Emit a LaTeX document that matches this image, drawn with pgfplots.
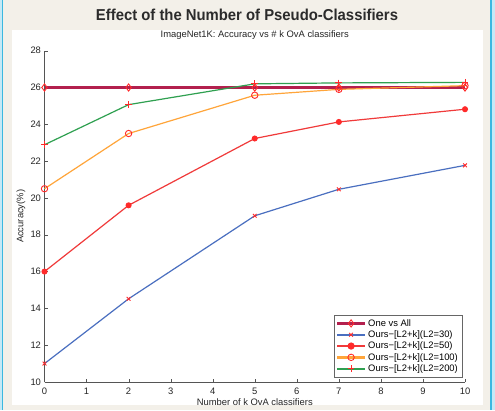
\documentclass[border=0pt]{standalone}
\usepackage{pgfplots}
\pgfplotsset{compat=1.18}
\usepackage{fontspec}
\setmainfont{Liberation Sans}

\definecolor{bgbeige}{HTML}{F3F0E9}
\definecolor{bordblue}{HTML}{3BB8E0}
\definecolor{bordlight}{HTML}{C5E9F6}
\definecolor{titlegray}{HTML}{2B2B2B}
\definecolor{axgray}{HTML}{555555}
\definecolor{ovacol}{HTML}{B3204E}
\definecolor{bluecol}{HTML}{4A6FC0}
\definecolor{redcol}{HTML}{F03A3A}
\definecolor{orangecol}{HTML}{FFA53A}
\definecolor{greencol}{HTML}{2FA050}
\definecolor{mkred}{HTML}{FF2A2A}

\begin{document}
\begin{tikzpicture}[x=1pt,y=1pt]
% page background and frame
\fill[bgbeige] (0,0) rectangle (495,410);
\fill[bordlight] (0,0) rectangle (1.7,410);
\fill[bordblue] (1.7,0) rectangle (3.3,410);
\fill[bordblue] (490,0) rectangle (492.3,410);
\fill[bordlight] (492.3,0) rectangle (495,410);
\fill[white] (12,5) rectangle (483,380);
\node[font=\bfseries\fontsize{15.8}{16}\selectfont, text=titlegray, xscale=0.94] at (247,395) {Effect of the Number of Pseudo-Classifiers};

\begin{axis}[
  at={(44.5pt,28pt)}, anchor=south west,
  scale only axis, width=420.5pt, height=331.3pt,
  xmin=0, xmax=10, ymin=10, ymax=28,
  xtick={0,1,...,10}, ytick={10,12,...,28},
  axis x line*=bottom, axis y line*=left,
  axis line style={-, draw=axgray},
  tick align=inside, major tick length=3.5pt,
  tick style={draw=axgray},
  font=\fontsize{9.4}{11}\selectfont,
  /pgf/number format/assume math mode=true,
  ticklabel style={text=black!85},
  xticklabel style={yshift=-2pt},
  title={ImageNet1K: Accuracy vs \# k OvA classifiers},
  title style={at={(0.5,1)}, anchor=base, yshift=7.3pt, text=black!85},
  xlabel={Number of k OvA classifiers},
  every axis x label/.style={at={(axis description cs:0.5,0)}, anchor=base, yshift=-23.3pt, text=black!85},
  ylabel={Accuracy(\%)},
  every axis y label/.style={at={(axis description cs:-0.0559,0.5)}, rotate=90, anchor=center, text=black!85},
  clip=false,
  legend cell align=left,
  legend style={at={(0.993,0.015)}, anchor=south east, draw=gray!80!black, font=\fontsize{9.4}{10.5}\selectfont, row sep=-1pt, inner sep=2pt},
  legend image code/.code={\draw[mark repeat=2,mark phase=2,#1,line width=2.3pt] plot coordinates {(0pt,0pt) (14pt,0pt) (28pt,0pt)};},
]
\addplot[color=ovacol, line width=2.4pt, mark=diamond, mark size=3.6pt, mark options={solid, draw=mkred, line width=0.9pt}]
  coordinates {(0,26) (2,26) (5,26) (7,26) (10,26)};
\addlegendentry{One vs All}
\addplot[color=bluecol, line width=1.2pt, mark=x, mark size=2.6pt, mark options={solid, draw=mkred, line width=0.9pt}]
  coordinates {(0,11) (2,14.52) (5,19.03) (7,20.47) (10,21.77)};
\addlegendentry{Ours−[L2+k](L2=30)}
\addplot[color=redcol, line width=1.2pt, mark=*, mark size=2.4pt, mark options={solid, draw=mkred, fill=mkred}]
  coordinates {(0,16) (2,19.6) (5,23.23) (7,24.13) (10,24.82)};
\addlegendentry{Ours−[L2+k](L2=50)}
\addplot[color=orangecol, line width=1.2pt, mark=o, mark size=3.2pt, mark options={solid, draw=mkred, line width=0.9pt}]
  coordinates {(0,20.5) (2,23.5) (5,25.58) (7,25.9) (10,26.1)};
\addlegendentry{Ours−[L2+k](L2=100)}
\addplot[color=greencol, line width=1.2pt, mark=+, mark size=3.4pt, mark options={solid, draw=mkred, line width=0.9pt}]
  coordinates {(0,22.89) (2,25.07) (5,26.2) (7,26.25) (10,26.28)};
\addlegendentry{Ours−[L2+k](L2=200)}
\end{axis}
\pgfresetboundingbox
\path[use as bounding box] (0,0) rectangle (495,410);
\end{tikzpicture}
\end{document}
